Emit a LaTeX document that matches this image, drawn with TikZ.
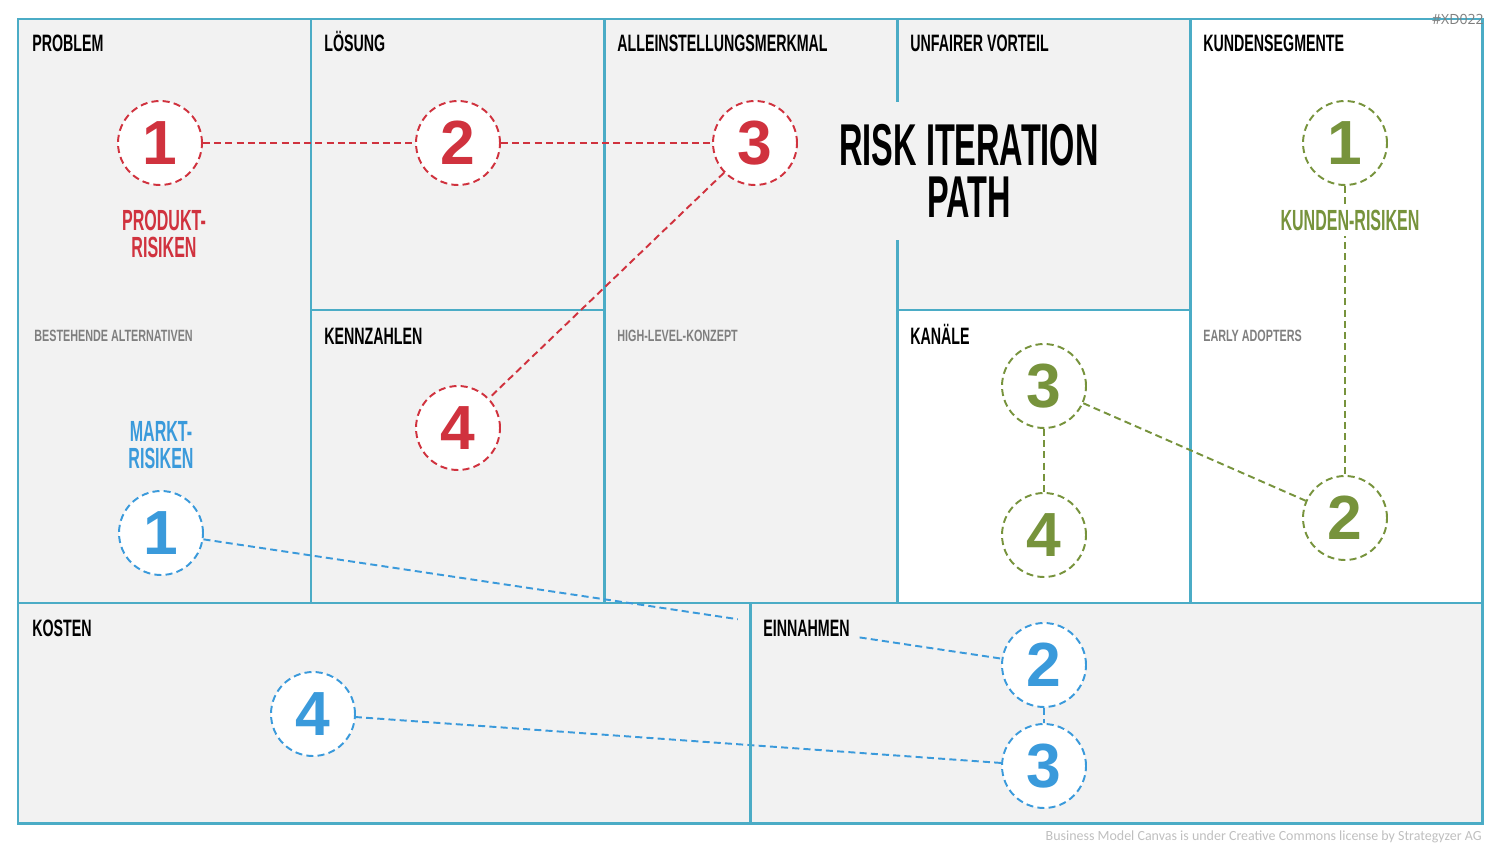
\documentclass[tikz,border=0pt]{standalone}
\usepackage{fontspec}
\setmainfont{Liberation Sans}
\newfontfamily\headfont[FakeStretch=0.6]{Liberation Sans Bold}
\newfontfamily\bigfont[FakeStretch=0.55]{Liberation Sans Bold}
\newfontfamily\smallfont[FakeStretch=0.66]{Liberation Sans Bold}
\newfontfamily\numfont{Liberation Sans Bold}
\newfontfamily\notefont{Carlito}
\newfontfamily\tagfont{Open Sans}
\usepackage{xcolor}
\definecolor{rahmen}{HTML}{4BACC6}
\definecolor{hell}{HTML}{F2F2F2}
\definecolor{rot}{HTML}{D0323E}
\definecolor{blau}{HTML}{3A9ADB}
\definecolor{gruen}{HTML}{77933C}
\definecolor{grau}{HTML}{7F7F7F}
\definecolor{blass}{HTML}{BFBFBF}

\begin{document}
\begin{tikzpicture}[x=0.02cm, y=-0.02cm,
    kreis/.style={circle, draw=#1, text=#1, fill=white, line width=1.1pt,
      dash pattern=on 4pt off 2.4pt, minimum size=1.68cm, inner sep=0pt,
      font=\numfont\fontsize{35.5}{36}\selectfont},
    pfad/.style={draw=#1, line width=1.1pt, dash pattern=on 4pt off 2.4pt},
    kopf/.style={anchor=base west, inner sep=0pt, font=\headfont\fontsize{13.5}{16}\selectfont},
    hinweis/.style={anchor=base west, inner sep=0pt, text=grau, font=\smallfont\fontsize{9.3}{10}\selectfont},
    risiko/.style={align=center, inner sep=0pt, text=#1, font=\bigfont\fontsize{16.6}{15.3}\selectfont},
    linie/.style={draw=rahmen, line width=1.7pt}]

    \useasboundingbox (0,0) rectangle (1500,844);

    % Felder
    \fill[hell] (18,19) rectangle (1482,823);
    \fill[white] (897,310) rectangle (1190,603);
    \fill[white] (1190,19) rectangle (1482,603);

    % Raster
    \draw[linie] (18,19) rectangle (1482,823);
    \draw[linie] (18,603) -- (1482,603);
    \draw[linie] (311,19) -- (311,603);
    \draw[linie] (604,19) -- (604,603);
    \draw[linie] (897,19) -- (897,603);
    \draw[linie] (1190,19) -- (1190,603);
    \draw[linie] (311,310) -- (604,310);
    \draw[linie] (897,310) -- (1190,310);

    % Kopfzeilen
    \node[kopf] (problem) at (32,52) {PROBLEM};
    \node[kopf] (loesung) at (324,52) {LÖSUNG};
    \node[kopf] (usp) at (617,52) {ALLEINSTELLUNGSMERKMAL};
    \node[kopf] (vorteil) at (910,52) {UNFAIRER VORTEIL};
    \node[kopf] (segmente) at (1203,52) {KUNDENSEGMENTE};
    \node[kopf] (kennzahlen) at (324,344) {KENNZAHLEN};
    \node[kopf] (kanaele) at (910,344) {KANÄLE};
    \node[kopf] (kosten) at (32,636) {KOSTEN};

    % Unterpunkte
    \node[hinweis] (alternativen) at (34,341) {BESTEHENDE ALTERNATIVEN};
    \node[hinweis] (konzept) at (617,341) {HIGH-LEVEL-KONZEPT};
    \node[hinweis] (adopters) at (1203,341) {EARLY ADOPTERS};

    % Produkt-Risiken
    \node[kreis=rot] (p1) at (160,143) {1};
    \node[kreis=rot] (p2) at (458,143) {2};
    \node[kreis=rot] (p3) at (755,143) {3};
    \node[kreis=rot] (p4) at (458,428) {4};
    \draw[pfad=rot] (p1) -- (p2);
    \draw[pfad=rot] (p2) -- (p3);
    \draw[pfad=rot] (p3) -- (p4);
    \node[risiko=rot] (produkt) at (164,234) {PRODUKT-\\RISIKEN};

    % Kunden-Risiken
    \node[kreis=gruen] (k1) at (1345,143) {1};
    \node[kreis=gruen] (k2) at (1345,518) {2};
    \node[kreis=gruen] (k3) at (1044,386) {3};
    \node[kreis=gruen] (k4) at (1044,535) {4};
    \draw[pfad=gruen] (k1) -- (k2);
    \draw[pfad=gruen] (k3) -- (k2);
    \draw[pfad=gruen] (k3) -- (k4);
    \node[risiko=gruen, fill=white, inner sep=3pt] (kunden) at (1350,220.5) {KUNDEN-RISIKEN};

    % Markt-Risiken
    \node[kreis=blau] (m1) at (161,533) {1};
    \node[kreis=blau] (m2) at (1044,665) {2};
    \node[kreis=blau] (m3) at (1044,766) {3};
    \node[kreis=blau] (m4) at (313,714) {4};
    \draw[pfad=blau] (m1) -- (m2);
    \draw[pfad=blau] (m2) -- (m3);
    \draw[pfad=blau] (m3) -- (m4);
    \node[risiko=blau] (markt) at (161,445.5) {MARKT-\\RISIKEN};

    % Einnahmen (verdeckt den Pfad)
    \fill[hell] (738,606) rectangle (858,652);
    \draw[linie] (750,603) -- (750,823);
    \node[kopf] (einnahmen) at (763,636) {EINNAHMEN};

    % Titel
    \node[fill=hell, minimum width=6.1cm, minimum height=2.76cm, align=center, inner sep=0pt,
      font=\bigfont\fontsize{33.6}{30}\selectfont] (titel) at (969,171) {RISK ITERATION\\PATH};

    % Vermerke
    \node[anchor=base east, inner sep=0pt, text=grau, font=\tagfont\fontsize{8}{9}\selectfont] (tag) at (1484,25) {\#XD022};
    \node[anchor=base east, inner sep=0pt, text=blass, font=\notefont\fontsize{7.95}{9}\selectfont] (lizenz) at (1482,840)
      {Business Model Canvas is under Creative Commons license by Strategyzer AG};
\end{tikzpicture}
\end{document}
